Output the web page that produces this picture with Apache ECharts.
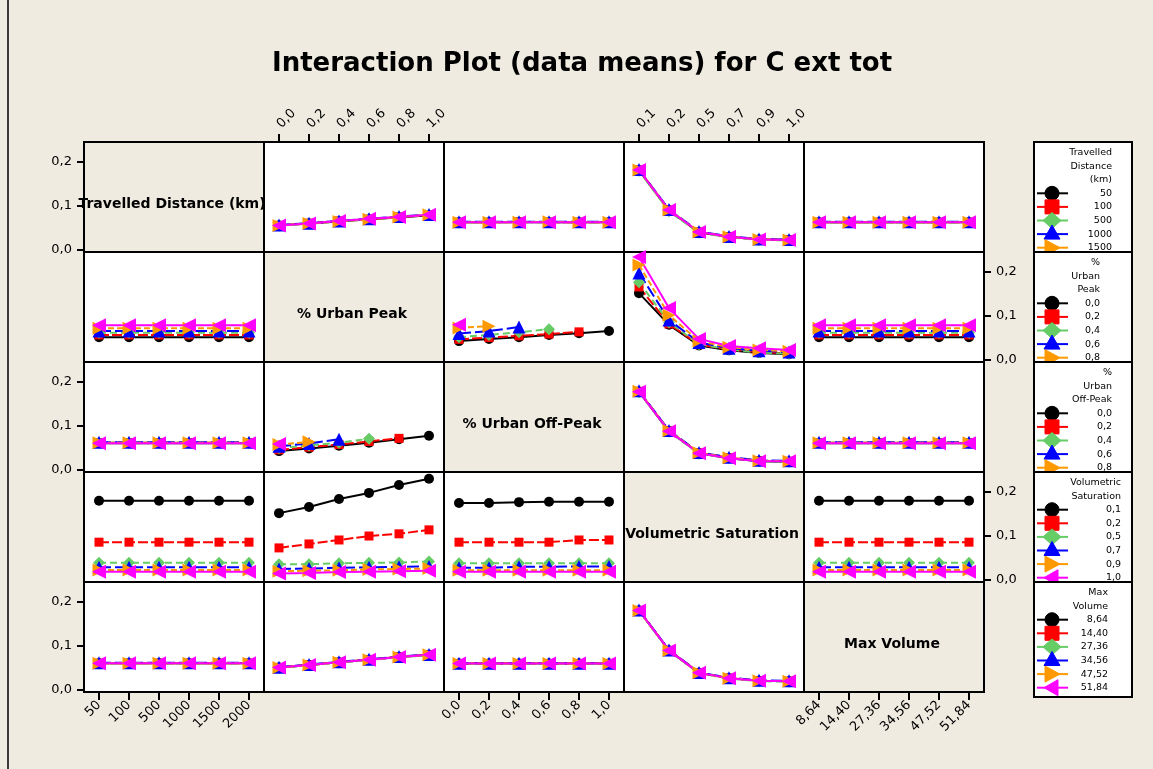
<!DOCTYPE html>
<html>
<head>
<meta charset="utf-8">
<script src="https://cdn.jsdelivr.net/npm/echarts@6/dist/echarts.min.js"></script>
<style>
html, body { margin: 0; padding: 0; background: #EFEBE1; }
#chart { width: 1153px; height: 769px; }
</style>
</head>
<body>
<div id="chart"></div>
<script>
// Factor levels (x-axis categories and legend entries)
const distLevels = ['50', '100', '500', '1000', '1500', '2000'];
const peakLevels = ['0,0', '0,2', '0,4', '0,6', '0,8', '1,0'];
const offPeakLevels = ['0,0', '0,2', '0,4', '0,6', '0,8', '1,0'];
const satLevels = ['0,1', '0,2', '0,5', '0,7', '0,9', '1,0'];
const volLevels = ['8,64', '14,40', '27,36', '34,56', '47,52', '51,84'];

const factorNames = ['Travelled Distance (km)', '% Urban Peak', '% Urban Off-Peak', 'Volumetric Saturation', 'Max Volume'];
const legendTitles = [['Travelled', 'Distance', '(km)'], ['%', 'Urban', 'Peak'], ['%', 'Urban', 'Off-Peak'], ['Volumetric', 'Saturation'], ['Max', 'Volume']];
const yTickValues = [0, 0.1, 0.2];

// Means of C ext tot: one array per panel, one row per level of the line factor
const distByPeak = [
  [0.056, 0.060, 0.065, 0.070, 0.074, 0.079],
  [0.056, 0.061, 0.066, 0.070, 0.075, 0.079],
  [0.055, 0.060, 0.065, 0.071, 0.075, 0.080],
  [0.057, 0.061, 0.066, 0.071, 0.076, 0.081],
  [0.056, 0.060, 0.065, 0.070, 0.075, 0.080],
  [0.056, 0.060, 0.066, 0.071, 0.075, 0.080]
];
const distByOffPeak = [
  [0.063, 0.063, 0.063, 0.063, 0.063, 0.063],
  [0.063, 0.063, 0.064, 0.063, 0.063, 0.063],
  [0.062, 0.063, 0.063, 0.063, 0.063, 0.062],
  [0.064, 0.064, 0.064, 0.064, 0.064, 0.064],
  [0.063, 0.063, 0.063, 0.064, 0.063, 0.063],
  [0.063, 0.063, 0.063, 0.063, 0.063, 0.063]
];
const distBySat = [
  [0.181, 0.090, 0.040, 0.030, 0.024, 0.023],
  [0.182, 0.091, 0.041, 0.030, 0.024, 0.023],
  [0.180, 0.088, 0.039, 0.029, 0.023, 0.022],
  [0.183, 0.092, 0.042, 0.031, 0.025, 0.024],
  [0.182, 0.091, 0.041, 0.030, 0.024, 0.023],
  [0.182, 0.091, 0.041, 0.030, 0.024, 0.023]
];
const distByVol = [
  [0.063, 0.063, 0.063, 0.063, 0.063, 0.063],
  [0.063, 0.063, 0.063, 0.063, 0.063, 0.063],
  [0.062, 0.062, 0.062, 0.062, 0.062, 0.062],
  [0.064, 0.064, 0.064, 0.064, 0.064, 0.064],
  [0.063, 0.063, 0.063, 0.063, 0.063, 0.063],
  [0.063, 0.063, 0.063, 0.063, 0.063, 0.063]
];

const peakByDist = [
  [0.052, 0.052, 0.052, 0.052, 0.052, 0.052],
  [0.057, 0.057, 0.057, 0.057, 0.057, 0.057],
  [0.062, 0.062, 0.062, 0.062, 0.062, 0.062],
  [0.066, 0.066, 0.066, 0.066, 0.066, 0.066],
  [0.072, 0.072, 0.072, 0.072, 0.072, 0.072],
  [0.079, 0.079, 0.079, 0.079, 0.079, 0.079]
];
const peakByOffPeak = [
  [0.043, 0.048, 0.052, 0.057, 0.061, 0.066],
  [0.047, 0.051, 0.055, 0.059, 0.064],
  [0.052, 0.057, 0.063, 0.070],
  [0.060, 0.066, 0.075],
  [0.073, 0.077],
  [0.080]
];
const peakBySat = [
  [0.152, 0.080, 0.033, 0.022, 0.016, 0.013],
  [0.166, 0.082, 0.035, 0.024, 0.018, 0.015],
  [0.177, 0.086, 0.036, 0.024, 0.017, 0.014],
  [0.198, 0.091, 0.040, 0.027, 0.021, 0.018],
  [0.216, 0.102, 0.043, 0.029, 0.023, 0.020],
  [0.234, 0.118, 0.048, 0.032, 0.027, 0.023]
];
const peakByVol = [
  [0.052, 0.052, 0.052, 0.052, 0.052, 0.052],
  [0.057, 0.057, 0.057, 0.057, 0.057, 0.057],
  [0.062, 0.062, 0.062, 0.062, 0.062, 0.062],
  [0.066, 0.066, 0.066, 0.066, 0.066, 0.066],
  [0.072, 0.072, 0.072, 0.072, 0.072, 0.072],
  [0.079, 0.079, 0.079, 0.079, 0.079, 0.079]
];

const offPeakByDist = [
  [0.061, 0.061, 0.061, 0.061, 0.061, 0.061],
  [0.062, 0.062, 0.062, 0.062, 0.062, 0.062],
  [0.062, 0.062, 0.062, 0.062, 0.062, 0.062],
  [0.063, 0.063, 0.063, 0.063, 0.063, 0.063],
  [0.062, 0.062, 0.062, 0.062, 0.062, 0.062],
  [0.061, 0.061, 0.061, 0.061, 0.061, 0.061]
];
const offPeakByPeak = [
  [0.043, 0.049, 0.055, 0.062, 0.070, 0.078],
  [0.046, 0.052, 0.058, 0.065, 0.072],
  [0.050, 0.056, 0.062, 0.071],
  [0.054, 0.060, 0.070],
  [0.058, 0.064],
  [0.059]
];
const offPeakBySat = [
  [0.178, 0.088, 0.038, 0.027, 0.020, 0.019],
  [0.179, 0.089, 0.039, 0.028, 0.021, 0.020],
  [0.177, 0.087, 0.037, 0.027, 0.020, 0.019],
  [0.180, 0.090, 0.040, 0.029, 0.022, 0.021],
  [0.179, 0.089, 0.039, 0.028, 0.021, 0.020],
  [0.178, 0.088, 0.038, 0.027, 0.020, 0.020]
];
const offPeakByVol = [
  [0.061, 0.061, 0.061, 0.061, 0.061, 0.061],
  [0.062, 0.062, 0.062, 0.062, 0.062, 0.062],
  [0.062, 0.062, 0.062, 0.062, 0.062, 0.062],
  [0.063, 0.063, 0.063, 0.063, 0.063, 0.063],
  [0.062, 0.062, 0.062, 0.062, 0.062, 0.062],
  [0.061, 0.061, 0.061, 0.061, 0.061, 0.061]
];

const satByDist = [
  [0.180, 0.180, 0.180, 0.180, 0.180, 0.180],
  [0.086, 0.086, 0.086, 0.086, 0.086, 0.086],
  [0.039, 0.039, 0.039, 0.039, 0.039, 0.039],
  [0.029, 0.029, 0.029, 0.029, 0.029, 0.029],
  [0.023, 0.023, 0.023, 0.023, 0.023, 0.023],
  [0.019, 0.019, 0.019, 0.019, 0.019, 0.019]
];
const satByPeak = [
  [0.152, 0.166, 0.184, 0.198, 0.216, 0.230],
  [0.073, 0.082, 0.091, 0.100, 0.105, 0.114],
  [0.036, 0.036, 0.038, 0.039, 0.040, 0.042],
  [0.025, 0.026, 0.028, 0.029, 0.030, 0.031],
  [0.020, 0.021, 0.022, 0.024, 0.025, 0.026],
  [0.015, 0.016, 0.018, 0.019, 0.020, 0.021]
];
const satByOffPeak = [
  [0.175, 0.175, 0.177, 0.178, 0.178, 0.178],
  [0.086, 0.086, 0.086, 0.086, 0.091, 0.091],
  [0.038, 0.038, 0.038, 0.038, 0.038, 0.038],
  [0.028, 0.028, 0.030, 0.030, 0.031, 0.031],
  [0.022, 0.022, 0.022, 0.022, 0.022, 0.022],
  [0.019, 0.019, 0.019, 0.019, 0.019, 0.019]
];
const satByVol = [
  [0.180, 0.180, 0.180, 0.180, 0.180, 0.180],
  [0.086, 0.086, 0.086, 0.086, 0.086, 0.086],
  [0.039, 0.039, 0.039, 0.039, 0.039, 0.039],
  [0.029, 0.029, 0.029, 0.029, 0.029, 0.029],
  [0.023, 0.023, 0.023, 0.023, 0.023, 0.023],
  [0.019, 0.019, 0.019, 0.019, 0.019, 0.019]
];

const volByDist = [
  [0.061, 0.061, 0.061, 0.061, 0.061, 0.061],
  [0.061, 0.061, 0.061, 0.061, 0.061, 0.061],
  [0.060, 0.060, 0.060, 0.060, 0.060, 0.060],
  [0.062, 0.062, 0.062, 0.062, 0.062, 0.062],
  [0.061, 0.061, 0.061, 0.061, 0.061, 0.061],
  [0.061, 0.061, 0.061, 0.061, 0.061, 0.061]
];
const volByPeak = [
  [0.051, 0.057, 0.063, 0.069, 0.075, 0.080],
  [0.051, 0.057, 0.063, 0.069, 0.075, 0.080],
  [0.050, 0.056, 0.062, 0.068, 0.074, 0.079],
  [0.052, 0.058, 0.064, 0.070, 0.076, 0.081],
  [0.051, 0.057, 0.063, 0.069, 0.075, 0.080],
  [0.051, 0.057, 0.063, 0.069, 0.075, 0.080]
];
const volByOffPeak = [
  [0.060, 0.060, 0.060, 0.060, 0.060, 0.060],
  [0.060, 0.060, 0.060, 0.060, 0.060, 0.060],
  [0.059, 0.059, 0.059, 0.059, 0.059, 0.059],
  [0.061, 0.061, 0.061, 0.061, 0.061, 0.061],
  [0.060, 0.060, 0.060, 0.060, 0.060, 0.060],
  [0.060, 0.060, 0.060, 0.060, 0.060, 0.060]
];
const volBySat = [
  [0.181, 0.090, 0.039, 0.027, 0.021, 0.020],
  [0.181, 0.090, 0.039, 0.027, 0.021, 0.020],
  [0.180, 0.089, 0.038, 0.026, 0.020, 0.019],
  [0.182, 0.091, 0.040, 0.028, 0.022, 0.021],
  [0.181, 0.090, 0.039, 0.027, 0.021, 0.020],
  [0.181, 0.090, 0.039, 0.027, 0.021, 0.020]
];

// Matrix layout: row = factor drawn as lines, column = factor on the x axis
const levels = [distLevels, peakLevels, offPeakLevels, satLevels, volLevels];
const panels = [
  [null, distByPeak, distByOffPeak, distBySat, distByVol],
  [peakByDist, null, peakByOffPeak, peakBySat, peakByVol],
  [offPeakByDist, offPeakByPeak, null, offPeakBySat, offPeakByVol],
  [satByDist, satByPeak, satByOffPeak, null, satByVol],
  [volByDist, volByPeak, volByOffPeak, volBySat, null]
];

// Group styles (Minitab-like symbols and colours)
const groupStyles = [
  { color: '#000000', symbol: 'circle', size: 10, rotate: 0, dash: 'solid' },
  { color: '#FF0000', symbol: 'rect', size: 9, rotate: 0, dash: [10, 3] },
  { color: '#66CC66', symbol: 'diamond', size: 12, rotate: 0, dash: [7, 4] },
  { color: '#0000FF', symbol: 'triangle', size: 13, rotate: 0, dash: [12, 4] },
  { color: '#FF9900', symbol: 'triangle', size: 13, rotate: -90, dash: [6, 3] },
  { color: '#FF00FF', symbol: 'triangle', size: 14, rotate: 90, dash: 'solid' }
];

const BG = '#EFEBE1';
const X0 = 84, Y0 = 142, CW = 180, RH = 110;
const FONT = '"DejaVu Sans", Verdana, sans-serif';

const grids = [], xAxes = [], yAxes = [], series = [], graphics = [];

for (let r = 0; r < 5; r++) {
  for (let c = 0; c < 5; c++) {
    const idx = r * 5 + c;
    const diag = r === c;
    grids.push({
      left: X0 + c * CW, top: Y0 + r * RH, width: CW, height: RH,
      show: true, backgroundColor: diag ? BG : '#FFFFFF',
      borderColor: '#000000', borderWidth: 2, containLabel: false
    });
    const topLabels = r === 0 && (c === 1 || c === 3);
    const bottomLabels = r === 4 && (c === 0 || c === 2 || c === 4);
    const showX = topLabels || bottomLabels;
    xAxes.push({
      gridIndex: idx, type: 'category', data: levels[c], boundaryGap: true,
      position: topLabels ? 'top' : 'bottom',
      axisLine: { show: showX, onZero: false, lineStyle: { color: '#000', width: 2 } },
      axisTick: { show: showX, inside: false, alignWithLabel: true, length: 8, lineStyle: { color: '#000', width: 2 } },
      axisLabel: {
        show: showX, interval: 0, rotate: topLabels ? -45 : 45, margin: topLabels ? 16 : 11,
        fontSize: 13, fontFamily: FONT, color: '#000'
      },
      splitLine: { show: false }
    });
    const leftY = c === 0 && (r === 0 || r === 2 || r === 4);
    const rightY = c === 4 && (r === 1 || r === 3);
    const showY = leftY || rightY;
    yAxes.push({
      gridIndex: idx, type: 'value', min: -0.0045, max: 0.2455,
      position: rightY ? 'right' : 'left',
      axisLine: { show: false, onZero: false },
      axisTick: { show: showY, length: 7, customValues: yTickValues, lineStyle: { color: '#000', width: 2 } },
      axisLabel: {
        show: showY, customValues: yTickValues, margin: 12, fontSize: 13, fontFamily: FONT, color: '#000',
        formatter: v => v.toFixed(1).replace('.', ',')
      },
      splitLine: { show: false }
    });
    if (diag) {
      graphics.push({
        type: 'text', z: 50,
        style: {
          text: factorNames[r], x: X0 + c * CW + CW / 2 - 2, y: Y0 + r * RH + RH / 2 + 7,
          textAlign: 'center', textVerticalAlign: 'middle', align: 'center', verticalAlign: 'middle',
          font: 'bold 14px ' + FONT, fill: '#000'
        }
      });
    } else {
      panels[r][c].forEach((vals, k) => {
        const st = groupStyles[k];
        series.push({
          type: 'line', xAxisIndex: idx, yAxisIndex: idx, data: vals,
          symbol: st.symbol, symbolSize: st.size, symbolRotate: st.rotate, showSymbol: true,
          lineStyle: { color: st.color, width: 2, type: st.dash },
          itemStyle: { color: st.color },
          animation: false, silent: true
        });
      });
    }
  }
}

// Legend boxes, one per row factor
const legendTops = [142, 252, 362, 472, 582];
const legendBottoms = [252, 362, 472, 582, 697];
const legendTextRight = [1112, 1100, 1112, 1121, 1108];
const LX = 1034, LW = 98, LINE_H = 13.6;

function markerShape(k, cx, cy, z) {
  const col = groupStyles[k].color;
  const style = { fill: col, stroke: col, lineWidth: 1 };
  switch (k) {
    case 0: return { type: 'circle', z, shape: { cx, cy, r: 7 }, style };
    case 1: return { type: 'rect', z, shape: { x: cx - 7, y: cy - 7, width: 14, height: 14 }, style };
    case 2: return { type: 'polygon', z, shape: { points: [[cx, cy - 8], [cx + 9, cy], [cx, cy + 8], [cx - 9, cy]] }, style };
    case 3: return { type: 'polygon', z, shape: { points: [[cx, cy - 9], [cx + 8, cy + 5], [cx - 8, cy + 5]] }, style };
    case 4: return { type: 'polygon', z, shape: { points: [[cx - 7, cy - 8], [cx + 8, cy], [cx - 7, cy + 8]] }, style };
    default: return { type: 'polygon', z, shape: { points: [[cx + 6, cy - 8], [cx - 8, cy], [cx + 6, cy + 8]] }, style };
  }
}

for (let f = 0; f < 5; f++) {
  const top = legendTops[f];
  const zb = 100 + f * 10;
  graphics.push({
    type: 'rect', z: zb,
    shape: { x: LX, y: top, width: LW, height: legendBottoms[f] - top },
    style: { fill: '#FFFFFF', stroke: '#000000', lineWidth: 2 }
  });
  const lines = legendTitles[f];
  let row = 0;
  lines.forEach(t => {
    graphics.push({
      type: 'text', z: zb + 1,
      style: {
        text: t, x: legendTextRight[f], y: top + 10.5 + LINE_H * row,
        textAlign: 'right', textVerticalAlign: 'middle', align: 'right', verticalAlign: 'middle',
        font: '9.5px ' + FONT, fill: '#000'
      }
    });
    row++;
  });
  levels[f].forEach((lab, k) => {
    const y = top + 10.5 + LINE_H * row;
    if (y > legendBottoms[f] + 8) { row++; return; }
    graphics.push({
      type: 'line', z: zb + 1,
      shape: { x1: 1037, y1: y, x2: 1068, y2: y },
      style: { stroke: groupStyles[k].color, lineWidth: 2 }
    });
    graphics.push(markerShape(k, 1052, y, zb + 2));
    graphics.push({
      type: 'text', z: zb + 1,
      style: {
        text: lab, x: legendTextRight[f], y,
        textAlign: 'right', textVerticalAlign: 'middle', align: 'right', verticalAlign: 'middle',
        font: '9.5px ' + FONT, fill: '#000'
      }
    });
    row++;
  });
}

// Outer frame line on the left
graphics.push({
  type: 'line', z: 1,
  shape: { x1: 8, y1: 0, x2: 8, y2: 769 },
  style: { stroke: '#000', lineWidth: 1.5 }
});

const chart = echarts.init(document.getElementById('chart'), null, { renderer: 'canvas' });
chart.setOption({
  backgroundColor: BG,
  animation: false,
  title: {
    text: 'Interaction Plot (data means) for C ext tot',
    left: 267, top: 46,
    textStyle: { fontSize: 26, fontWeight: 'bold', fontFamily: FONT, color: '#000' }
  },
  grid: grids,
  xAxis: xAxes,
  yAxis: yAxes,
  series: series,
  graphic: { elements: graphics }
});
</script>
</body>
</html>
